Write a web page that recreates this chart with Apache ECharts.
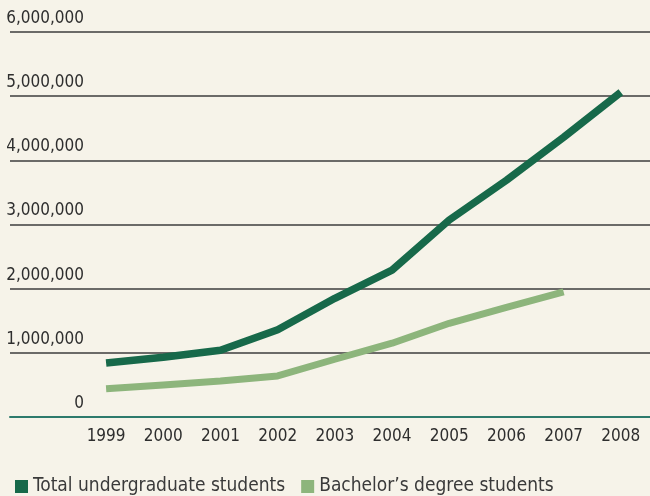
<!DOCTYPE html>
<html lang="en">
<head>
    <meta charset="UTF-8">
    <title>Undergraduate students</title>
    <script src="https://cdn.jsdelivr.net/npm/echarts@6/dist/echarts.min.js"></script>
    <style>
        html, body { margin: 0; padding: 0; background: #f6f3e9; }
        #chart { width: 650px; height: 496px; }
    </style>
</head>
<body>
<div id="chart"></div>
<script type="text/javascript">
    // data
    var years = [1999, 2000, 2001, 2002, 2003, 2004, 2005, 2006, 2007, 2008];
    var totalStudents = [840000, 930000, 1040000, 1360000, 1850000, 2290000, 3070000, 3690000, 4360000, 5060000];
    var bachelorStudents = [440000, 500000, 560000, 640000, 900000, 1150000, 1460000, 1710000, 1950000];
    var yTicks = [0, 1000000, 2000000, 3000000, 4000000, 5000000, 6000000];

    var font = '"Liberation Sans Narrow", "DejaVu Sans Condensed", "Roboto", sans-serif';
    var darkGreen = '#17694a';
    var lightGreen = '#8db57c';

    function pairs(vals) {
        return vals.map(function (v, i) { return [years[i], v]; });
    }

    var chart = echarts.init(document.getElementById('chart'));
    var option = {
        backgroundColor: '#f6f3e9',
        animation: false,
        textStyle: { fontFamily: font },
        grid: { left: 10, right: 0, top: 32, bottom: 79 },
        legend: {
            left: 10,
            top: 472,
            icon: 'rect',
            itemWidth: 13,
            itemHeight: 13,
            itemGap: 16,
            textStyle: { fontFamily: font, fontSize: 19, color: '#3a3a3a' },
            data: [
                { name: 'Total undergraduate students', itemStyle: { color: darkGreen } },
                { name: 'Bachelor\u2019s degree students', itemStyle: { color: lightGreen } }
            ]
        },
        xAxis: {
            type: 'value',
            min: 1997.32,
            max: 2008.51,
            axisLine: { show: true, lineStyle: { color: '#2d7a6c', width: 2 } },
            axisTick: { show: false },
            splitLine: { show: false },
            axisLabel: {
                customValues: years,
                margin: 11,
                fontSize: 17,
                color: '#2e2e2e',
                fontFamily: font,
                formatter: function (v) { return String(v); }
            }
        },
        yAxis: {
            type: 'value',
            min: yTicks[0],
            max: yTicks[yTicks.length - 1],
            interval: 1000000,
            axisLine: { show: false },
            axisTick: { show: false },
            splitLine: { lineStyle: { color: '#3d3d3d', width: 1.5 } },
            axisLabel: {
                inside: true,
                align: 'right',
                verticalAlign: 'bottom',
                margin: 74,
                padding: [0, 0, 5, 0],
                fontSize: 17,
                color: '#2e2e2e',
                fontFamily: font,
                formatter: function (v) { return v.toLocaleString('en-US'); }
            }
        },
        series: [
            {
                name: 'Total undergraduate students',
                type: 'line',
                data: pairs(totalStudents),
                symbol: 'none',
                color: darkGreen,
                lineStyle: { width: 7.5, color: darkGreen, cap: 'butt' }
            },
            {
                name: 'Bachelor\u2019s degree students',
                type: 'line',
                data: pairs(bachelorStudents),
                symbol: 'none',
                color: lightGreen,
                lineStyle: { width: 7, color: lightGreen, cap: 'butt' }
            }
        ]
    };
    chart.setOption(option);
</script>
</body>
</html>
